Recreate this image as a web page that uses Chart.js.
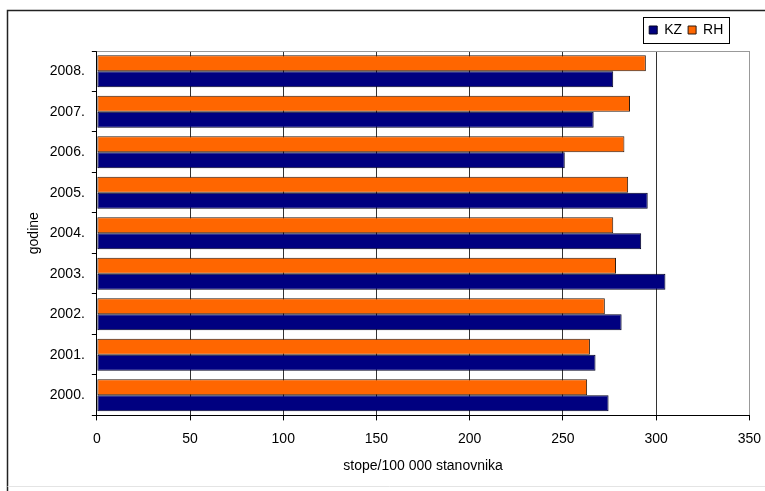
<!DOCTYPE html>
<html>
<head>
<meta charset="utf-8">
<script src="https://cdn.jsdelivr.net/npm/chart.js@4.4.1/dist/chart.umd.min.js"></script>
<style>
html, body { margin: 0; padding: 0; background: #fff; overflow: hidden; }
#okvir { width: 765px; height: 491px; overflow: hidden; }
</style>
</head>
<body>
<div id="okvir"><canvas id="grafikon" width="771" height="491"></canvas></div>
<script>
// podaci (odozgo prema dolje, kao na slici)
const godine = ["2008.", "2007.", "2006.", "2005.", "2004.", "2003.", "2002.", "2001.", "2000."];
const vrijednosti_rh = [294.5, 286, 283, 285, 277, 278.5, 272.5, 264.5, 263];
const vrijednosti_kz = [277, 266.5, 251, 295.5, 292, 305, 281.5, 267.5, 274.5];
const oznake_x = [0, 50, 100, 150, 200, 250, 300, 350];

// okvir oko cijelog grafikona i gornji/desni rub podrucja crtanja
const okvir_plugin = {
    id: 'okvir',
    beforeDraw(chart) {
        const c = chart.ctx;
        c.save();
        c.fillStyle = '#fff';
        c.fillRect(0, 0, chart.width, chart.height);
        c.strokeStyle = '#222';
        c.lineWidth = 1.5;
        c.beginPath();
        c.moveTo(7.5, chart.height);
        c.lineTo(7.5, 10.5);
        c.lineTo(chart.width, 10.5);
        c.stroke();
        c.strokeStyle = '#e4e4e4';
        c.lineWidth = 1;
        c.beginPath();
        c.moveTo(7.5, 486.5);
        c.lineTo(chart.width, 486.5);
        c.stroke();
        c.restore();
    },
    afterLayout(chart) {
        // legenda malo ulijevo i gore, kao u originalu
        const leg = chart.legend;
        const dx = (chart.chartArea.right - 20) - leg.right;
        leg.left += dx; leg.right += dx;
        leg.top -= 4; leg.bottom -= 4;
    },
    afterDraw(chart) {
        const c = chart.ctx;
        const a = chart.chartArea;
        c.save();
        c.strokeStyle = '#999';
        c.lineWidth = 1;
        c.beginPath();
        c.moveTo(a.left, a.top + 0.5);
        c.lineTo(a.right, a.top + 0.5);
        c.stroke();
        const hb = chart.legend.legendHitBoxes;
        if (hb && hb.length) {
            let l = Math.min(...hb.map(h => h.left));
            let r = Math.max(...hb.map(h => h.left + h.width));
            let t = Math.min(...hb.map(h => h.top));
            let b = Math.max(...hb.map(h => h.top + h.height));
            c.strokeStyle = '#000';
            c.strokeRect(Math.round(l - 6) + 0.5, Math.round(t - 6) + 0.5, Math.round(r - l + 12), Math.round(b - t + 12));
        }
        c.restore();
    }
};

function renderiraj_grafikon() {
    const ctx = document.getElementById('grafikon').getContext('2d');
    Chart.defaults.font.family = "'Liberation Sans', Arial, sans-serif";
    Chart.defaults.font.size = 14;
    Chart.defaults.color = '#000';

    new Chart(ctx, {
        type: 'bar',
        data: {
            labels: godine,
            datasets: [{
                label: 'RH',
                data: vrijednosti_rh,
                backgroundColor: '#ff6600',
                borderColor: '#2a1a10',
                borderWidth: 1,
                borderSkipped: false,
                categoryPercentage: 0.79,
                barPercentage: 1.0
            }, {
                label: 'KZ',
                data: vrijednosti_kz,
                backgroundColor: '#000080',
                borderColor: '#000020',
                borderWidth: 1,
                borderSkipped: false,
                categoryPercentage: 0.79,
                barPercentage: 1.0
            }]
        },
        options: {
            indexAxis: 'y',
            responsive: false,
            animation: false,
            devicePixelRatio: 1,
            layout: { padding: { left: 22, right: 0, top: 21, bottom: 12 } },
            plugins: {
                legend: {
                    position: 'top',
                    align: 'end',
                    reverse: true,
                    labels: { boxWidth: 8, boxHeight: 8, padding: 6, font: { size: 14 }, color: '#000' }
                },
                tooltip: { enabled: false }
            },
            scales: {
                x: {
                    min: 0,
                    max: 350,
                    afterBuildTicks: (os) => { os.ticks = oznake_x.map(v => ({ value: v })); },
                    ticks: { padding: 10, font: { size: 14 }, color: '#000', maxRotation: 0 },
                    grid: {
                        color: (c) => (c.tick && c.tick.value === 350) ? '#999' : '#333',
                        tickColor: '#000',
                        tickLength: 5
                    },
                    border: { color: '#000', width: 1 },
                    title: { display: true, text: 'stope/100 000 stanovnika', font: { size: 14 }, color: '#000', padding: { top: 1, bottom: 4 } }
                },
                y: {
                    ticks: { padding: 7, font: { size: 14 }, color: '#000' },
                    grid: { drawOnChartArea: false, tickColor: '#000', tickLength: 5 },
                    border: { color: '#000', width: 1 },
                    title: { display: true, text: 'godine', font: { size: 14 }, color: '#000', padding: { top: 4, bottom: 0 } }
                }
            }
        },
        plugins: [okvir_plugin]
    });
}

window.onload = function () {
    renderiraj_grafikon();
};
</script>
</body>
</html>
